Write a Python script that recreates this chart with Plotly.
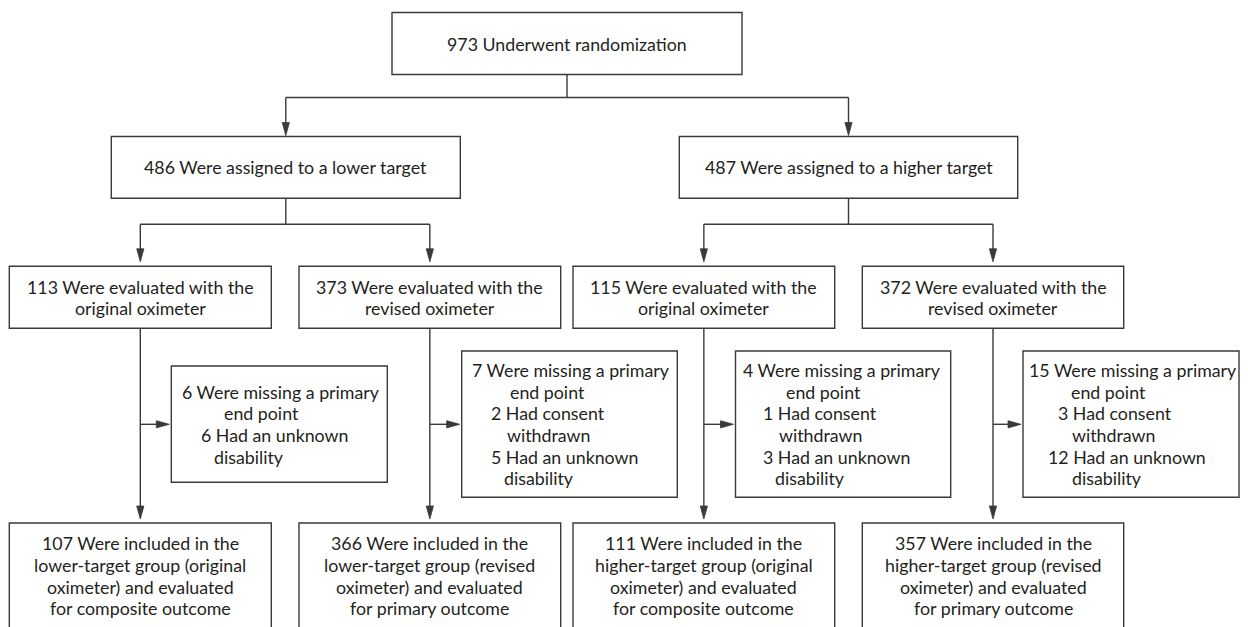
import plotly.graph_objects as go

# ---------------- data (counts and texts) ----------------
randomized_n = 973
arm_n = [486, 487]
arm_labels = ["lower", "higher"]
group_n = [113, 373, 115, 372]
group_oximeter = ["original", "revised", "original", "revised"]
missing_n = [6, 7, 4, 15]
consent_n = [0, 2, 1, 3]
disability_n = [6, 5, 3, 12]
included_n = [107, 366, 111, 357]
included_group = ["lower", "lower", "higher", "higher"]
included_outcome = ["composite", "primary", "composite", "primary"]

# ---------------- layout geometry (pixels of the page) ----------------
W, H = 1248, 627
OFF = 8  # default page body margin
LINE_COLOR = "#3a3a3a"
TEXT_COLOR = "#231f20"
FONT = "Lato"
FS = 17.8
LH = 21.6

top_box = (392, 742, 12.5, 74.5)
arm_x = [(111.3, 460.3), (679.3, 1017.7)]
arm_y = (136.5, 198.3)
grp_x = [(9.3, 271.3), (299, 560.7), (573, 834.7), (862.3, 1123.7)]
grp_y = (266.3, 328.3)
exc_x = [(171.3, 387.3), (461.7, 677.3), (735.5, 950.7), (1023, 1239)]
exc_y = [(366, 482.3), (351, 497.3), (351, 497.3), (351, 497.3)]
fin_y0 = 523
conn1_y = 97.5
conn2_y = 224.3
side_y = 424.3

# left x of each text line inside the exclusion boxes
exc_line_x = [
    [180, 222.3, 199.3, 212.3],
    [470.3, 507.7, 488.7, 504.7, 488.7, 502.3],
    [741, 784, 760.7, 776.7, 761, 773.3],
    [1027, 1069, 1056, 1069.7, 1046.3, 1069.7],
]

shapes = []
annotations = []


def line(x0, y0, x1, y1):
    shapes.append(dict(type="line", x0=x0, y0=y0, x1=x1, y1=y1, xref="x", yref="y",
                       line=dict(color=LINE_COLOR, width=1.4)))


def rect(x0, x1, y0, y1):
    shapes.append(dict(type="rect", x0=x0, x1=x1, y0=y0, y1=y1, xref="x", yref="y",
                       line=dict(color=LINE_COLOR, width=1.4), fillcolor="rgba(0,0,0,0)"))


def open_box(x0, x1, y0):
    shapes.append(dict(type="path", xref="x", yref="y",
                       path=f"M {x0},{H + 5} L {x0},{y0} L {x1},{y0} L {x1},{H + 5}",
                       line=dict(color=LINE_COLOR, width=1.4)))


def arrow_down(x, tip):
    L, hw = 13, 3.6
    shapes.append(dict(type="path", xref="x", yref="y",
                       path=f"M {x - hw},{tip - L} L {x + hw},{tip - L} L {x},{tip} Z",
                       fillcolor=LINE_COLOR, line=dict(color=LINE_COLOR, width=0.8)))


def arrow_right(tip, y):
    L, hw = 13, 3.6
    shapes.append(dict(type="path", xref="x", yref="y",
                       path=f"M {tip - L},{y - hw} L {tip - L},{y + hw} L {tip},{y} Z",
                       fillcolor=LINE_COLOR, line=dict(color=LINE_COLOR, width=0.8)))


def text(x, y, s, anchor="center"):
    annotations.append(dict(x=x, y=y, xref="x", yref="y", text=s, showarrow=False,
                            xanchor=anchor, yanchor="middle",
                            font=dict(family=FONT, size=FS, color=TEXT_COLOR)))


def text_block(x, yc, lines, anchor="center", xs=None):
    n = len(lines)
    for i, s in enumerate(lines):
        y = yc + (i - (n - 1) / 2) * LH
        text(xs[i] if xs else x, y, s, anchor)


# top box
rect(*top_box)
top_cx = (top_box[0] + top_box[1]) / 2
text_block(top_cx, (top_box[2] + top_box[3]) / 2, [f"{randomized_n} Underwent randomization"])

# connector from top box to arms
arm_cx = [(a + b) / 2 for a, b in arm_x]
line(top_cx, top_box[3], top_cx, conn1_y)
line(arm_cx[0], conn1_y, arm_cx[1], conn1_y)
for cx in arm_cx:
    line(cx, conn1_y, cx, arm_y[0] - 5)
    arrow_down(cx, arm_y[0] - 1)

# arm boxes
for i, (x0, x1) in enumerate(arm_x):
    rect(x0, x1, *arm_y)
    text_block(arm_cx[i], sum(arm_y) / 2,
               [f"{arm_n[i]} Were assigned to a {arm_labels[i]} target"])

# split from arms to groups
grp_cx = [(a + b) / 2 for a, b in grp_x]
for a in range(2):
    g0, g1 = grp_cx[2 * a], grp_cx[2 * a + 1]
    line(arm_cx[a], arm_y[1], arm_cx[a], conn2_y)
    line(g0, conn2_y, g1, conn2_y)
    for g in (g0, g1):
        line(g, conn2_y, g, grp_y[0] - 8)
        arrow_down(g, grp_y[0] - 4.5)

# group boxes, exclusions, final boxes
for i, (x0, x1) in enumerate(grp_x):
    cx = grp_cx[i]
    rect(x0, x1, *grp_y)
    text_block(cx, sum(grp_y) / 2,
               [f"{group_n[i]} Were evaluated with the", f"{group_oximeter[i]} oximeter"])
    # vertical line down to final box
    line(cx, grp_y[1], cx, fin_y0 - 8)
    arrow_down(cx, fin_y0 - 4)
    # side arrow to exclusion box
    ex0, ex1 = exc_x[i]
    ey0, ey1 = exc_y[i]
    line(cx, side_y, ex0 - 6, side_y)
    arrow_right(ex0 - 2, side_y)
    rect(ex0, ex1, ey0, ey1)
    lines = [f"{missing_n[i]} Were missing a primary", "end point"]
    if consent_n[i]:
        lines += [f"{consent_n[i]} Had consent", "withdrawn"]
    lines += [f"{disability_n[i]} Had an unknown", "disability"]
    text_block(None, (ey0 + ey1) / 2, lines, anchor="left", xs=exc_line_x[i])
    # final box (open at bottom, extends past the frame)
    open_box(x0, x1, fin_y0)
    text_block(cx, 575.8, [
        f"{included_n[i]} Were included in the",
        f"{included_group[i]}-target group ({group_oximeter[i]}",
        "oximeter) and evaluated",
        f"for {included_outcome[i]} outcome",
    ])

fig = go.Figure()
fig.update_layout(
    width=W - OFF, height=H - OFF,
    margin=dict(l=0, r=0, t=0, b=0),
    paper_bgcolor="white", plot_bgcolor="white",
    xaxis=dict(range=[OFF, W], visible=False, fixedrange=True),
    yaxis=dict(range=[H, OFF], visible=False, fixedrange=True),
    shapes=shapes, annotations=annotations,
    showlegend=False,
)
fig.write_html("out.html", config={"displayModeBar": False})
